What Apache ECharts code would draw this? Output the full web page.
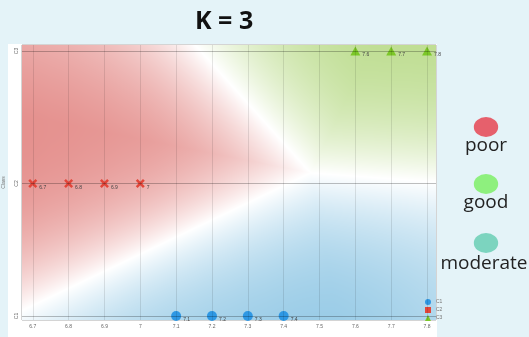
<!DOCTYPE html>
<html><head><meta charset="utf-8">
<script src="https://cdn.jsdelivr.net/npm/echarts@6/dist/echarts.min.js"></script>
<style>html,body{margin:0;padding:0;background:#e4f3f8;}#c{width:529px;height:337px;}</style>
</head><body><div id="c"></div>
<script>
// ---- data ----
const classNames = ['C1', 'C2', 'C3'];
const classLevels = [1, 2, 3];
const c1X = [7.1, 7.2, 7.3, 7.4];
const c2X = [6.7, 6.8, 6.9, 7.0];
const c3X = [7.6, 7.7, 7.8];
const xTicks = [6.7, 6.8, 6.9, 7.0, 7.1, 7.2, 7.3, 7.4, 7.5, 7.6, 7.7, 7.8];
const qualityNames = ['poor', 'good', 'moderate'];
// decision boundary, [x, class level]
const boundaryJunction = [7.475, 2.08];
const boundaryRedGreen = [7.153, 3.045];
const boundaryRedBlue = [6.669, 1.04];
const boundaryGreenBlue = [7.828, 2.01];

const chart = echarts.init(document.getElementById('c'));

const regionColors = { blue: [142, 198, 228], red: [226, 133, 130], green: [184, 218, 135] };
let fieldCache = null;
function renderField(params, api) {
  const cs = params.coordSys;
  const w = Math.round(cs.width), h = Math.round(cs.height);
  const key = w + 'x' + h + 'x' + cs.x + 'x' + cs.y;
  if (!fieldCache || fieldCache.key !== key) {
    const M = api.coord(boundaryJunction), A = api.coord(boundaryRedGreen),
          B = api.coord(boundaryRedBlue), C = api.coord(boundaryGreenBlue);
    const unit = p => { const dx = p[0] - M[0], dy = p[1] - M[1], l = Math.hypot(dx, dy); return [dx / l, dy / l]; };
    const uA = unit(A), uB = unit(B), uC = unit(C);
    const TWO = Math.PI * 2;
    const ang = v => { let a = Math.atan2(v[1], v[0]); return a < 0 ? a + TWO : a; };
    const aC = ang(uC), relB = (ang(uB) - aC + TWO) % TWO, relA = (ang(uA) - aC + TWO) % TWO;
    const pts = {
      blue: c1X.map(x => api.coord([x, classLevels[0]])),
      red: c2X.map(x => api.coord([x, classLevels[1]])),
      green: c3X.map(x => api.coord([x, classLevels[2]]))
    };
    const rayDist = (vx, vy, u) => {
      const pr = vx * u[0] + vy * u[1];
      return pr < 0 ? Math.hypot(vx, vy) : Math.abs(vx * u[1] - vy * u[0]);
    };
    const L = 60, S = 300;
    const canvas = document.createElement('canvas');
    canvas.width = w; canvas.height = h;
    const ctx = canvas.getContext('2d');
    const img = ctx.createImageData(w, h);
    for (let j = 0; j < h; j++) {
      for (let i = 0; i < w; i++) {
        const px = cs.x + i + 0.5, py = cs.y + j + 0.5;
        const vx = px - M[0], vy = py - M[1];
        const rel = (ang([vx, vy]) - aC + TWO) % TWO;
        let reg, d;
        if (rel < relB) { reg = 'blue'; d = Math.min(rayDist(vx, vy, uC), rayDist(vx, vy, uB)); }
        else if (rel < relA) { reg = 'red'; d = Math.min(rayDist(vx, vy, uB), rayDist(vx, vy, uA)); }
        else { reg = 'green'; d = Math.min(rayDist(vx, vy, uA), rayDist(vx, vy, uC)); }
        let dp = Infinity;
        for (const p of pts[reg]) dp = Math.min(dp, Math.hypot(px - p[0], py - p[1]));
        const t = (1 - Math.exp(-d / L)) * Math.exp(-Math.pow(dp / S, 2));
        const col = regionColors[reg];
        const k = (j * w + i) * 4;
        img.data[k] = 255 - t * (255 - col[0]);
        img.data[k + 1] = 255 - t * (255 - col[1]);
        img.data[k + 2] = 255 - t * (255 - col[2]);
        img.data[k + 3] = 255;
      }
    }
    ctx.putImageData(img, 0, 0);
    fieldCache = { key, canvas };
  }
  return { type: 'image', silent: true, style: { image: fieldCache.canvas, x: cs.x, y: cs.y, width: w, height: h } };
}

const xPath = 'path://M2,0 L5,3 L8,0 L10,2 L7,5 L10,8 L8,10 L5,7 L2,10 L0,8 L3,5 L0,2 Z';
const pointLabel = { show: true, position: 'right', offset: [-3, 4], fontSize: 5, color: '#444',
  formatter: p => String(p.value[0]) };

const option = {
  backgroundColor: '#e4f3f8',
  animation: false,
  title: { text: 'K = 3', left: 190, top: 4,
    textStyle: { fontFamily: 'Open Sans', fontWeight: 'bold', fontSize: 25, color: '#111' } },
  graphic: [
    { type: 'rect', z: -10, shape: { x: 8, y: 44, width: 429, height: 293 }, style: { fill: '#ffffff' }, silent: true },
    { type: 'circle', shape: { cx: 0, cy: 0, r: 10 }, x: 486, y: 127, scaleX: 1.22, style: { fill: '#e6606c' } },
    { type: 'text', x: 486, y: 146, style: { text: qualityNames[0], fontFamily: 'Open Sans', fontSize: 19, fill: '#222', align: 'center', verticalAlign: 'middle' } },
    { type: 'circle', shape: { cx: 0, cy: 0, r: 10 }, x: 486, y: 184, scaleX: 1.22, style: { fill: '#8ef07e' } },
    { type: 'text', x: 486, y: 203, style: { text: qualityNames[1], fontFamily: 'Open Sans', fontSize: 19, fill: '#222', align: 'center', verticalAlign: 'middle' } },
    { type: 'circle', shape: { cx: 0, cy: 0, r: 10 }, x: 486, y: 243, scaleX: 1.22, style: { fill: '#7cd4bf' } },
    { type: 'text', x: 484, y: 264, style: { text: qualityNames[2], fontFamily: 'Open Sans', fontSize: 19, fill: '#222', align: 'center', verticalAlign: 'middle' } }
  ],
  legend: {
    orient: 'vertical', left: 420, top: 294, itemWidth: 6, itemHeight: 6, itemGap: 2,
    textStyle: { fontSize: 5, color: '#777' },
    data: [
      { name: classNames[0], icon: 'circle' },
      { name: classNames[1], icon: 'rect' },
      { name: classNames[2], icon: 'triangle' }
    ]
  },
  grid: { left: 22, top: 45, right: 93, bottom: 17, containLabel: false, outerBoundsMode: 'none',
    show: true, borderColor: '#a9a9a9', borderWidth: 1, backgroundColor: 'transparent' },
  xAxis: {
    type: 'value', min: 6.67, max: 7.825,
    axisLine: { show: false }, splitLine: { show: false },
    axisTick: { show: false, customValues: xTicks },
    axisLabel: { customValues: xTicks, fontSize: 5, color: '#666', margin: 4, formatter: v => String(v) }
  },
  yAxis: {
    type: 'value', min: 0.97, max: 3.045, name: 'Class', nameLocation: 'middle', nameGap: 10, nameRotate: 90,
    nameTextStyle: { fontSize: 5, color: '#777' },
    axisLine: { show: false }, splitLine: { show: false },
    axisTick: { show: false, customValues: classLevels },
    axisLabel: { customValues: classLevels, rotate: 90, fontSize: 5, color: '#666', margin: 3,
      formatter: v => classNames[classLevels.indexOf(v)] || '' }
  },
  series: [
    { type: 'custom', z: 1, silent: true, renderItem: renderField, data: [[xTicks[0], classLevels[0]]], clip: true },
    { type: 'scatter', z: 2, silent: true, data: [],
      markLine: { silent: true, symbol: 'none', label: { show: false }, animation: false,
        data: xTicks.map(v => ({ xAxis: v, lineStyle: { color: 'rgba(0,0,0,0.1)', width: 1, type: 'solid' } }))
          .concat(classLevels.map(v => ({ yAxis: v, lineStyle: { color: 'rgba(0,0,0,0.25)', width: 1, type: 'solid' } }))) } },
    { name: classNames[0], type: 'scatter', z: 3, symbol: 'circle', symbolSize: 10,
      itemStyle: { color: '#2f98e4', opacity: 1 }, label: pointLabel,
      data: c1X.map(x => [x, classLevels[0]]) },
    { name: classNames[1], type: 'scatter', z: 3, symbol: xPath, symbolSize: 9,
      itemStyle: { color: '#e2463a', opacity: 1 }, label: pointLabel,
      data: c2X.map(x => [x, classLevels[1]]) },
    { name: classNames[2], type: 'scatter', z: 3, symbol: 'triangle', symbolSize: [10, 9],
      itemStyle: { color: '#7cc728', opacity: 1 }, label: pointLabel,
      data: c3X.map(x => [x, classLevels[2]]) }
  ]
};
chart.setOption(option);
</script>
</body></html>
